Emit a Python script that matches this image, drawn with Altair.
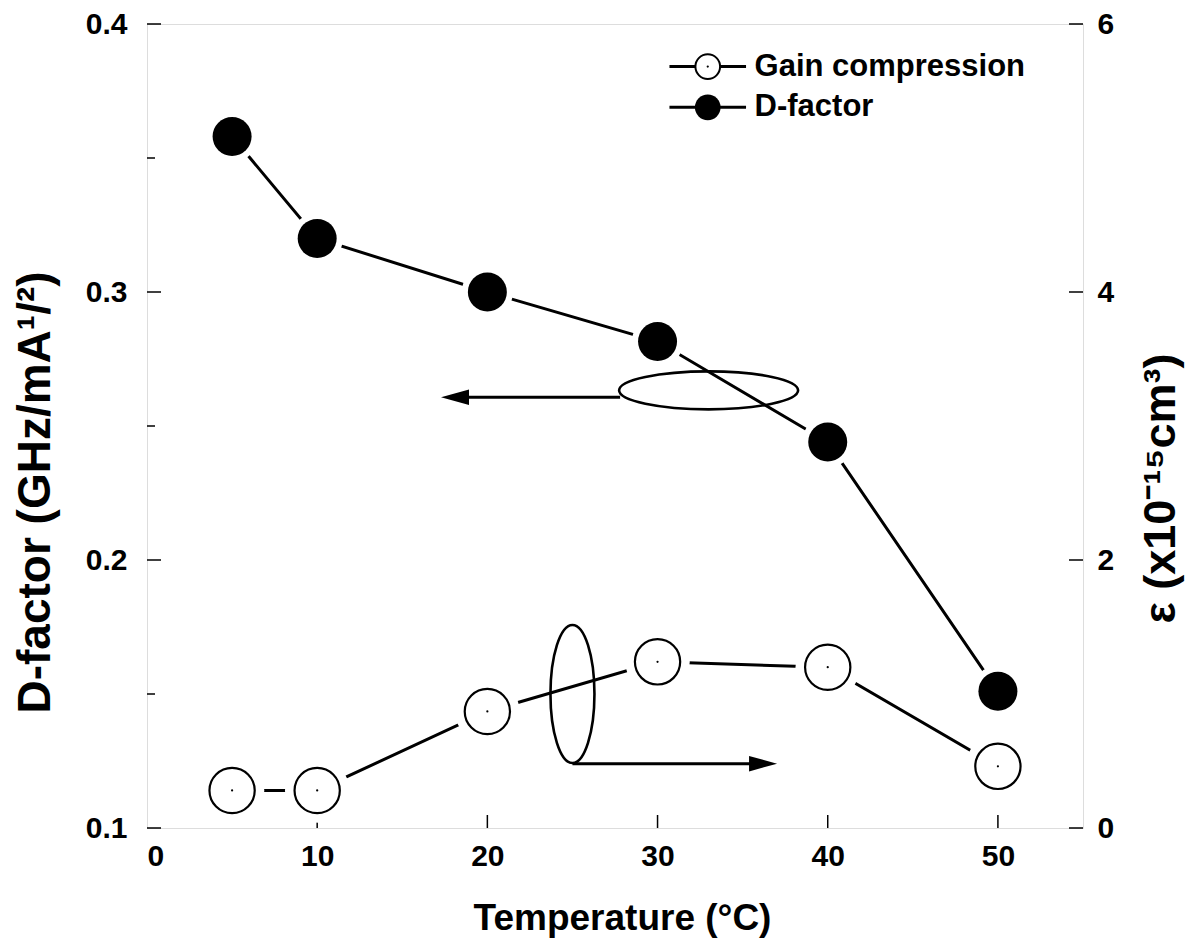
import altair as alt
import pandas as pd

# ---- data ----
temps = [5, 10, 20, 30, 40, 50]
d_factor = [0.358, 0.320, 0.300, 0.2815, 0.244, 0.151]
gain_comp = [0.28, 0.28, 0.87, 1.24, 1.20, 0.46]

x_ticks = [0, 10, 20, 30, 40, 50]
left_major = [0.1, 0.2, 0.3, 0.4]
left_minor = [0.15, 0.25, 0.35]
right_major = [0, 2, 4, 6]

# annotation anchors (data coordinates)
ell1_x, ell1_y = [33.0], [0.2633]
arr1_x, arr1_x2, arr1_y = [27.8], [18.6], [0.2607]
arr1_head_x = [18.1]
ell2_x, ell2_y = [25.0], [1.0]
arr2_x, arr2_x2, arr2_y = [25.0], [36.0], [0.48]
arr2_head_x = [36.2]

leg_labels = ["Gain compression", "D-factor"]
leg_y = [0.3841, 0.3689]
leg_line_x = [30.7, 35.2]
leg_mark_x = [32.95]
leg_text_x = [35.7]

W, H = 936, 804
BOLD = "Liberation Sans, Arial, sans-serif"

xscale = alt.Scale(domain=[0, 55], nice=False, zero=False)
lscale = alt.Scale(domain=[0.1, 0.4], nice=False, zero=False)
rscale = alt.Scale(domain=[0, 6], nice=False, zero=False)

x_axis = alt.Axis(values=x_ticks, ticks=False, domain=False, grid=False,
                  labelFont=BOLD, labelFontSize=30, labelFontWeight="bold",
                  labelPadding=13, labelColor="black",
                  title="Temperature (°C)", titleFont=BOLD, titleFontSize=37,
                  titleFontWeight="bold", titleColor="black",
                  titleX=475, titleY=90, titleBaseline="middle")
l_axis = alt.Axis(values=left_major, format=".1f", ticks=False, domain=False, grid=False,
                  labelFont=BOLD, labelFontSize=30, labelFontWeight="bold",
                  labelPadding=20, labelColor="black",
                  title="D-factor (GHz/mA¹/²)", titleFont=BOLD, titleFontSize=46,
                  titleFontWeight="bold", titleColor="black", titleAngle=270,
                  titleX=-112, titleY=468, titleBaseline="middle", titleAlign="center")
r_axis = alt.Axis(values=right_major, format="d", ticks=False, domain=False, grid=False,
                  orient="right",
                  labelFont=BOLD, labelFontSize=30, labelFontWeight="bold",
                  labelPadding=14, labelColor="black",
                  title="ε (x10⁻¹⁵cm³)", titleFont=BOLD, titleFontSize=45,
                  titleFontWeight="bold", titleColor="black", titleAngle=270,
                  titleX=77, titleY=464, titleBaseline="middle", titleAlign="center")


def X(field):
    return alt.X(f"{field}:Q", scale=xscale, axis=x_axis)


def YL(field):
    return alt.Y(f"{field}:Q", scale=lscale, axis=l_axis)


def YR(field):
    return alt.Y(f"{field}:Q", scale=rscale, axis=r_axis)


def ellipse_path(rx, ry):
    k = 0.5523
    return (f"M {-rx} 0 C {-rx} {-k*ry} {-k*rx} {-ry} 0 {-ry} "
            f"C {k*rx} {-ry} {rx} {-k*ry} {rx} 0 "
            f"C {rx} {k*ry} {k*rx} {ry} 0 {ry} "
            f"C {-k*rx} {ry} {-rx} {k*ry} {-rx} 0 Z")


ELL1 = ellipse_path(1, 38 / 179)
ELL2 = ellipse_path(44 / 138, 1)
TRI_L = "M -1 0 L 1 -0.55 L 1 0.55 Z"
TRI_R = "M 1 0 L -1 -0.55 L -1 0.55 Z"

dfd = pd.DataFrame({"t": temps, "d": d_factor})
gfd = pd.DataFrame({"t": temps, "g": gain_comp})

# ---------------- left (D-factor) layer ----------------
d_line = alt.Chart(dfd).mark_line(color="black", strokeWidth=3).encode(x=X("t"), y=YL("d"))
d_halo = alt.Chart(dfd).mark_point(shape="circle", filled=True, color="white", opacity=1,
                                   size=2640).encode(x=X("t"), y=YL("d"))
d_pts = alt.Chart(dfd).mark_point(shape="circle", filled=True, color="black", opacity=1,
                                  size=1520).encode(x=X("t"), y=YL("d"))

ell1 = alt.Chart(pd.DataFrame({"x": ell1_x, "y": ell1_y})).mark_point(
    shape=ELL1, filled=False, stroke="black", strokeWidth=2.6, opacity=1, size=179 ** 2
).encode(x=X("x"), y=YL("y"))
arr1 = alt.Chart(pd.DataFrame({"x": arr1_x, "x2": arr1_x2, "y": arr1_y})).mark_rule(
    color="black", strokeWidth=3).encode(x=X("x"), x2="x2:Q", y=YL("y"))
arr1h = alt.Chart(pd.DataFrame({"x": arr1_head_x, "y": arr1_y})).mark_point(
    shape=TRI_L, filled=True, color="black", opacity=1, size=784).encode(x=X("x"), y=YL("y"))

leg_lines = alt.Chart(pd.DataFrame({
    "x": [leg_line_x[0]] * 2, "x2": [leg_line_x[1]] * 2, "y": leg_y})).mark_rule(
    color="black", strokeWidth=3).encode(x=X("x"), x2="x2:Q", y=YL("y"))
leg_open = alt.Chart(pd.DataFrame({"x": leg_mark_x, "y": leg_y[:1]})).mark_point(
    shape="circle", filled=True, fill="white", stroke="black", strokeWidth=2,
    opacity=1, size=610).encode(x=X("x"), y=YL("y"))
leg_dot = alt.Chart(pd.DataFrame({"x": leg_mark_x, "y": leg_y[:1]})).mark_point(
    shape="circle", filled=True, color="black", opacity=1, size=5).encode(x=X("x"), y=YL("y"))
leg_fill = alt.Chart(pd.DataFrame({"x": leg_mark_x, "y": leg_y[1:]})).mark_point(
    shape="circle", filled=True, color="black", opacity=1, size=660).encode(x=X("x"), y=YL("y"))
leg_text = alt.Chart(pd.DataFrame({"x": leg_text_x * 2, "y": leg_y, "label": leg_labels})).mark_text(
    align="left", baseline="middle", font=BOLD, fontSize=31, fontWeight="bold", color="black"
).encode(x=X("x"), y=YL("y"), text="label:N")

xt = alt.Chart(pd.DataFrame({"v": x_ticks[1:]})).mark_rule(color="black", strokeWidth=1.5).encode(
    x=X("v"), y=alt.value(H), y2=alt.value(H - 13))
lt_major = alt.Chart(pd.DataFrame({"v": left_major})).mark_rule(color="black", strokeWidth=1.5).encode(
    y=YL("v"), x=alt.value(0), x2=alt.value(14))
lt_minor = alt.Chart(pd.DataFrame({"v": left_minor})).mark_rule(color="black", strokeWidth=1.5).encode(
    y=YL("v"), x=alt.value(0), x2=alt.value(8))

left = alt.layer(d_line, d_halo, d_pts, ell1, arr1, arr1h,
                 leg_lines, leg_open, leg_dot, leg_fill, leg_text,
                 xt, lt_major, lt_minor)

# ---------------- right (gain compression) layer ----------------
g_line = alt.Chart(gfd).mark_line(color="black", strokeWidth=3).encode(x=X("t"), y=YR("g"))
g_halo = alt.Chart(gfd).mark_point(shape="circle", filled=True, color="white", opacity=1,
                                   size=4150).encode(x=X("t"), y=YR("g"))
g_pts = alt.Chart(gfd).mark_point(shape="circle", filled=True, fill="white", stroke="black",
                                  strokeWidth=2.2, opacity=1, size=2050).encode(x=X("t"), y=YR("g"))
g_dot = alt.Chart(gfd).mark_point(shape="circle", filled=True, color="black", opacity=1,
                                  size=5).encode(x=X("t"), y=YR("g"))
ell2 = alt.Chart(pd.DataFrame({"x": ell2_x, "y": ell2_y})).mark_point(
    shape=ELL2, filled=False, stroke="black", strokeWidth=2.6, opacity=1, size=138 ** 2
).encode(x=X("x"), y=YR("y"))
arr2 = alt.Chart(pd.DataFrame({"x": arr2_x, "x2": arr2_x2, "y": arr2_y})).mark_rule(
    color="black", strokeWidth=3).encode(x=X("x"), x2="x2:Q", y=YR("y"))
arr2h = alt.Chart(pd.DataFrame({"x": arr2_head_x, "y": arr2_y})).mark_point(
    shape=TRI_R, filled=True, color="black", opacity=1, size=784).encode(x=X("x"), y=YR("y"))
rt_major = alt.Chart(pd.DataFrame({"v": right_major})).mark_rule(color="black", strokeWidth=1.5).encode(
    y=YR("v"), x=alt.value(W), x2=alt.value(W - 14))

right = alt.layer(g_line, g_halo, g_pts, g_dot, ell2, arr2, arr2h, rt_major)

chart = alt.layer(left, right).resolve_scale(y="independent").properties(
    width=W, height=H,
    autosize=alt.AutoSizeParams(type="none"),
    padding={"left": 139, "top": 16, "right": 106, "bottom": 110},
).configure_view(stroke="black", strokeWidth=1.6).configure(background="white")

chart.save("out.html", embed_options={"renderer": "svg", "actions": False})
